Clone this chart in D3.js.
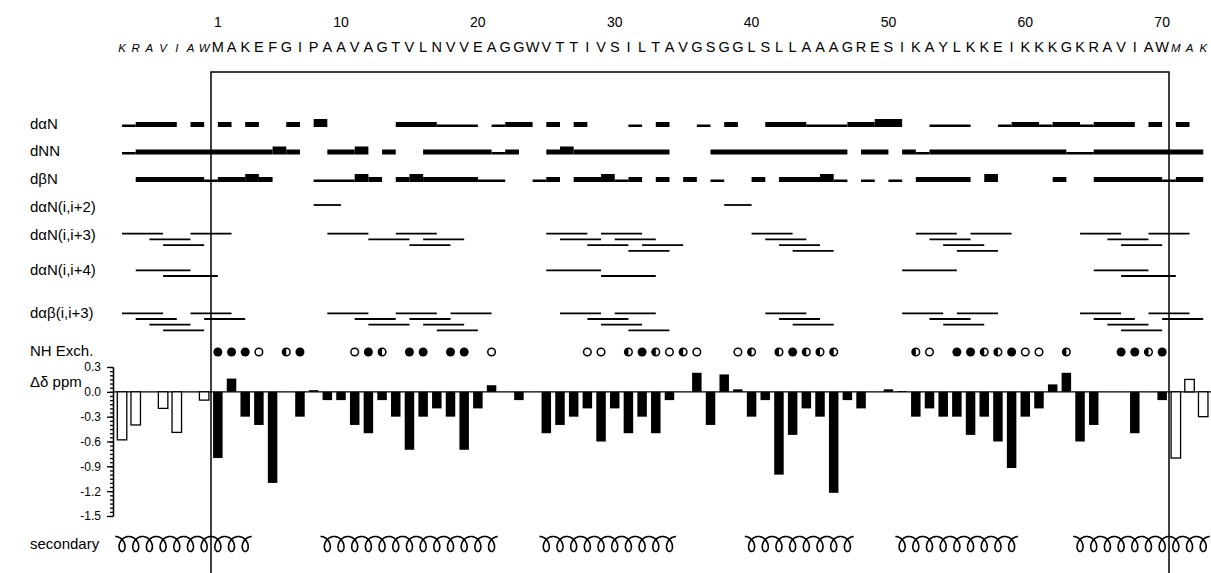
<!DOCTYPE html>
<html><head><meta charset="utf-8">
<script src="https://cdn.jsdelivr.net/npm/d3@7"></script>
<style>
body{margin:0;background:#fff}
svg{display:block}
text{font-family:"Liberation Sans",Arial,Helvetica,sans-serif;fill:#000}
</style>
</head><body>
<svg id="c" width="1211" height="573"></svg>
<script>
// ---------------- DATA ----------------
const sequence = "MAKEFGIPAAVAGTVLNVVEAGGWVTTIVSILTAVGSGGLSLLAAAGRESIKAYLKKEIKKKGKRAVIAW"; // residues 1..70
const tagN = "KRAVIAW"; // residues -6..0
const tagC = "MAK";     // residues 71..73
const numberTicks = [1, 10, 20, 30, 40, 50, 60, 70];

// sequential NOEs: [from residue, to residue, intensity 1=weak 2=medium 3=strong]
const dAlphaN = [[-6,-5,1],[-5,-2,2],[-1,0,2],[1,2,2],[3,4,2],[6,7,2],[8,9,3],[14,17,2],[17,20,1],
  [21,22,1],[22,24,2],[25,26,2],[27,28,2],[31,32,1],[33,34,2],[36,37,1],[38,39,2],[41,44,2],[44,47,1],
  [47,49,2],[49,51,3],[53,56,1],[58,59,1],[59,61,2],[61,62,1],[62,64,2],[64,65,1],[65,68,2],[69,70,2],[71,72,2]];
const dNN = [[-6,-5,1],[-5,5,2],[5,6,3],[6,7,2],[9,11,2],[11,12,3],[13,14,2],[16,21,2],[21,22,1],[22,23,2],
  [25,26,2],[26,27,3],[27,34,2],[37,47,2],[48,50,2],[51,52,2],[52,53,1],[53,63,2],[63,65,1],[65,73,2]];
const dBetaN = [[-5,0,2],[0,1,1],[1,3,2],[3,4,3],[4,5,2],[8,11,1],[11,12,3],[12,13,2],[14,15,2],[15,16,3],
  [16,20,2],[20,22,1],[24,25,1],[25,26,2],[27,29,2],[29,30,3],[30,31,1],[31,32,2],[33,34,2],[35,36,2],
  [37,38,1],[40,41,2],[42,45,2],[45,46,3],[46,47,1],[48,49,1],[50,51,1],[52,56,2],[57,58,3],[62,63,2],
  [65,70,2],[70,71,1],[71,73,2]];

// medium-range NOEs: [i, j]
const dAlphaN_i2 = [[8,10],[38,40]];
const dAlphaN_i3 = [[-6,-3],[-4,-1],[-3,0],[-1,2],[9,12],[12,15],[14,17],[15,18],[16,19],[25,28],[26,29],
  [28,31],[29,32],[30,33],[31,34],[32,35],[40,43],[41,44],[42,45],[43,46],[52,55],[53,56],[54,57],[55,58],
  [56,59],[64,67],[66,69],[67,70],[69,72]];
const dAlphaN_i4 = [[-5,-1],[-3,1],[25,29],[29,33],[51,55],[65,69],[67,71]];
const dAlphaBeta_i3 = [[-6,-3],[-5,-2],[-4,-1],[-3,0],[-1,2],[0,3],[9,12],[11,14],[12,15],[14,17],[15,18],
  [16,19],[17,20],[18,21],[26,29],[28,31],[29,32],[30,33],[31,34],[41,44],[42,45],[43,46],[51,54],[53,56],
  [54,57],[55,58],[64,67],[65,68],[66,69],[67,70],[69,72],[70,73]];

// NH exchange classes
const nhSlow = [1,2,3,7,12,15,16,18,19,32,43,55,56,59,67,68,70];
const nhIntermediate = [6,13,31,33,35,40,42,44,45,46,52,57,58,63,69];
const nhFast = [4,11,21,28,29,34,36,39,53,60,61];

// chemical shift deviation (ppm), residues -6..73
const shiftResidues = d3.range(-6, 74);
const shiftValues = [-0.58,-0.4,0,-0.2,-0.49,0,-0.1,
  -0.8,0.16,-0.3,-0.4,-1.1,0,-0.3,0.02,-0.1,-0.1,
  -0.4,-0.5,-0.1,-0.3,-0.7,-0.3,-0.2,-0.3,-0.7,-0.2,
  0.08,0,-0.1,0,-0.5,-0.4,-0.3,-0.2,-0.6,-0.2,
  -0.5,-0.3,-0.5,-0.1,0,0.23,-0.4,0.21,0.03,-0.3,
  -0.1,-1.0,-0.52,-0.2,-0.3,-1.22,-0.1,-0.2,0,0.03,
  0.01,-0.3,-0.2,-0.3,-0.3,-0.52,-0.3,-0.6,-0.92,-0.3,
  -0.2,0.09,0.23,-0.6,-0.4,0,0,-0.5,0,-0.1,
  -0.8,0.15,-0.3];
const yTicks = [0.3, 0.0, -0.3, -0.6, -0.9, -1.2, -1.5];

// helices: [first residue, last residue]
const helices = [[-6,3],[9,21],[25,34],[40,47],[51,59],[64,73]];

const rowLabels = ["dαN","dNN","dβN","dαN(i,i+2)","dαN(i,i+3)","dαN(i,i+4)","dαβ(i,i+3)","NH Exch.","Δδ ppm","secondary"];

// ---------------- DRAW ----------------
const svg = d3.select("#c");
const x = d3.scaleLinear().domain([0.5, 70.5]).range([211, 1169]);
const rw = x(1) - x(0);
const FONT = '"Liberation Sans",Arial,Helvetica,sans-serif';

// frame
svg.append("path")
  .attr("d", `M${x(0.5)},573V72H${x(70.5)}V573`)
  .attr("fill","none").attr("stroke","#000").attr("stroke-width",1.5);

// residue numbers
svg.append("g").selectAll("text").data(numberTicks).join("text")
  .attr("x", d => x(d)).attr("y", 27).attr("text-anchor","middle")
  .attr("font-size", 14).text(d => d);

// sequence letters
const letters = [];
tagN.split("").forEach((c,i) => letters.push({r: i-6, c, tag: true}));
sequence.split("").forEach((c,i) => letters.push({r: i+1, c, tag: false}));
tagC.split("").forEach((c,i) => letters.push({r: i+71, c, tag: true}));
svg.append("g").selectAll("text").data(letters).join("text")
  .attr("x", d => x(d.r)).attr("y", 52).attr("text-anchor","middle")
  .attr("font-size", d => d.tag ? 11.5 : 14.5)
  .attr("font-style", d => d.tag ? "italic" : "normal")
  .text(d => d.c);

// row labels
const labelY = [129, 156, 184, 212, 240, 275, 318, 356, 387, 549];
svg.append("g").selectAll("text").data(rowLabels).join("text")
  .attr("x", 30).attr("y", (d,i) => labelY[i]).attr("font-size", 15).text(d => d);

// sequential NOE bars
const thick = {1: 2.5, 2: 5, 3: 8};
const seqRows = [[dAlphaN, 127], [dNN, 154.5], [dBetaN, 182]];
seqRows.forEach(([data, base]) => {
  svg.append("g").selectAll("rect").data(data).join("rect")
    .attr("x", d => x(d[0])).attr("width", d => x(d[1]) - x(d[0]))
    .attr("y", d => base - thick[d[2]]).attr("height", d => thick[d[2]])
    .attr("fill","#000");
});

// medium-range NOE lines, stacked greedily
function stack(arr){
  const ends = [];
  return arr.slice().sort((a,b) => a[0]-b[0] || a[1]-b[1]).map(([s,e]) => {
    let l = ends.findIndex(v => v < s);
    if (l < 0) { l = ends.length; ends.push(e); } else ends[l] = e;
    return {s, e, l};
  });
}
const medRows = [[dAlphaN_i2, 205], [dAlphaN_i3, 233.7], [dAlphaN_i4, 270.3], [dAlphaBeta_i3, 313.3]];
medRows.forEach(([data, top]) => {
  svg.append("g").selectAll("line").data(stack(data)).join("line")
    .attr("x1", d => x(d.s)).attr("x2", d => x(d.e))
    .attr("y1", d => top + d.l*5.7).attr("y2", d => top + d.l*5.7)
    .attr("stroke","#000").attr("stroke-width",1.8);
});

// NH exchange symbols
const nhY = 352, nr = 3.8;
const gN = svg.append("g");
gN.selectAll("circle.s").data(nhSlow).join("circle").attr("class","s")
  .attr("cx", d => x(d)).attr("cy", nhY).attr("r", nr+0.7).attr("fill","#000");
gN.selectAll("circle.f").data(nhFast.concat(nhIntermediate)).join("circle").attr("class","f")
  .attr("cx", d => x(d)).attr("cy", nhY).attr("r", nr).attr("fill","#fff")
  .attr("stroke","#000").attr("stroke-width",1.5);
gN.selectAll("path.h").data(nhIntermediate).join("path").attr("class","h")
  .attr("d", d => `M${x(d)},${nhY-nr}A${nr},${nr} 0 0 0 ${x(d)},${nhY+nr}Z`)
  .attr("fill","#000");

// chemical shift axis
const y = d3.scaleLinear().domain([-1.5, 0.3]).range([516, 367]);
const axisX = 113;
const minor = d3.range(-30, 7).map(k => +(k*0.05).toFixed(2));
const gMinor = svg.append("g").attr("transform", `translate(${axisX},0)`)
  .call(d3.axisLeft(y).tickValues(minor).tickSize(3).tickFormat("").tickSizeOuter(0));
const gMajor = svg.append("g").attr("transform", `translate(${axisX},0)`)
  .call(d3.axisLeft(y).tickValues(yTicks).tickSize(6).tickPadding(6)
    .tickFormat(d => d.toFixed(1)).tickSizeOuter(0));
[gMinor, gMajor].forEach(g => {
  g.selectAll("path,line").attr("stroke","#000").attr("stroke-width",1.3);
  g.selectAll("text").attr("font-family", FONT).attr("font-size", 12).attr("fill","#000");
});

// zero line
svg.append("line").attr("x1", axisX).attr("x2", 1211).attr("y1", y(0)).attr("y2", y(0))
  .attr("stroke","#000").attr("stroke-width",1.3);

// bars
const bw = 9.5;
const bars = shiftResidues.map((r,i) => ({r, v: shiftValues[i]})).filter(d => d.v !== 0);
svg.append("g").selectAll("rect").data(bars).join("rect")
  .attr("x", d => x(d.r) - bw/2).attr("width", bw)
  .attr("y", d => Math.min(y(d.v), y(0))).attr("height", d => Math.abs(y(d.v) - y(0)))
  .attr("fill", d => (d.r >= 1 && d.r <= 70) ? "#000" : "#fff")
  .attr("stroke","#000").attr("stroke-width", d => (d.r >= 1 && d.r <= 70) ? 0 : 1.3);

// helices
const hyc = 544, Ry = 7.5, Rx = 6;
const line = d3.line();
helices.forEach(([a,b]) => {
  const n = b - a + 1, x0 = x(a - 0.5);
  const pts = d3.range(0, n*2*Math.PI + 0.001, 0.1).map(t =>
    [x0 + rw*t/(2*Math.PI) + Rx*Math.sin(t), hyc - Ry*Math.cos(t)]);
  svg.append("path").attr("d", line(pts)).attr("fill","none")
    .attr("stroke","#000").attr("stroke-width",1.6);
});
</script>
</body></html>
